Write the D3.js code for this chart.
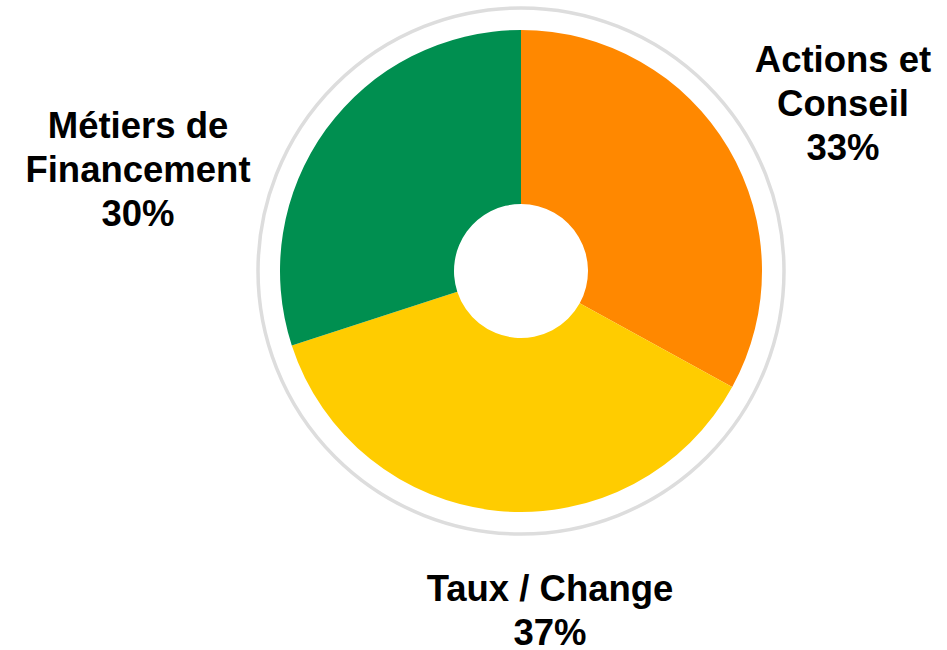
<!DOCTYPE html>
<html>
<head>
<meta charset="utf-8">
<script src="https://cdn.jsdelivr.net/npm/d3@7"></script>
<style>
  body { margin: 0; background: #fff; }
  svg text { font-family: "Liberation Sans", Arial, sans-serif; font-weight: bold; font-size: 36.5px; fill: #000; }
</style>
</head>
<body>
<svg id="chart" width="947" height="650"></svg>
<script>
// chart data
const categories = ["Actions et Conseil", "Taux / Change", "Métiers de Financement"];
const labelLines = [["Actions et", "Conseil"], ["Taux / Change"], ["Métiers de", "Financement"]];
const shares = [33, 37, 30];
const colors = ["#FF8800", "#FFCC00", "#008F50"];

// layout
const cx = 521, cy = 271;
const outerR = 241, innerR = 67, ringR = 263;
const lineH = 44;
// label block anchor (first baseline) relative to centre
const labelPos = [[322, -199], [29, 330], [-383, -133]];

const data = categories.map((c, i) => ({ name: c, lines: labelLines[i], value: shares[i], color: colors[i] }));

const svg = d3.select("#chart");
const g = svg.append("g").attr("transform", "translate(" + cx + "," + cy + ")");

// outer grey ring
g.append("circle")
  .attr("r", ringR)
  .attr("fill", "none")
  .attr("stroke", "#DDDDDD")
  .attr("stroke-width", 3.5);

const pie = d3.pie().sort(null).value(d => d.value);
const arc = d3.arc().innerRadius(innerR).outerRadius(outerR);

const slices = pie(data);

g.selectAll(".slice")
  .data(slices)
  .enter()
  .append("path")
  .attr("class", "slice")
  .attr("d", arc)
  .attr("fill", d => d.data.color);

// labels
const lbl = g.selectAll(".lbl")
  .data(slices)
  .enter()
  .append("text")
  .attr("class", "lbl")
  .attr("text-anchor", "middle")
  .attr("transform", (d, i) => "translate(" + labelPos[i][0] + "," + labelPos[i][1] + ")");

lbl.each(function (d) {
  const t = d3.select(this);
  const lines = d.data.lines.concat([d.data.value + "%"]);
  lines.forEach((s, k) => {
    t.append("tspan").attr("x", 0).attr("y", k * lineH).text(s);
  });
});
</script>
</body>
</html>
